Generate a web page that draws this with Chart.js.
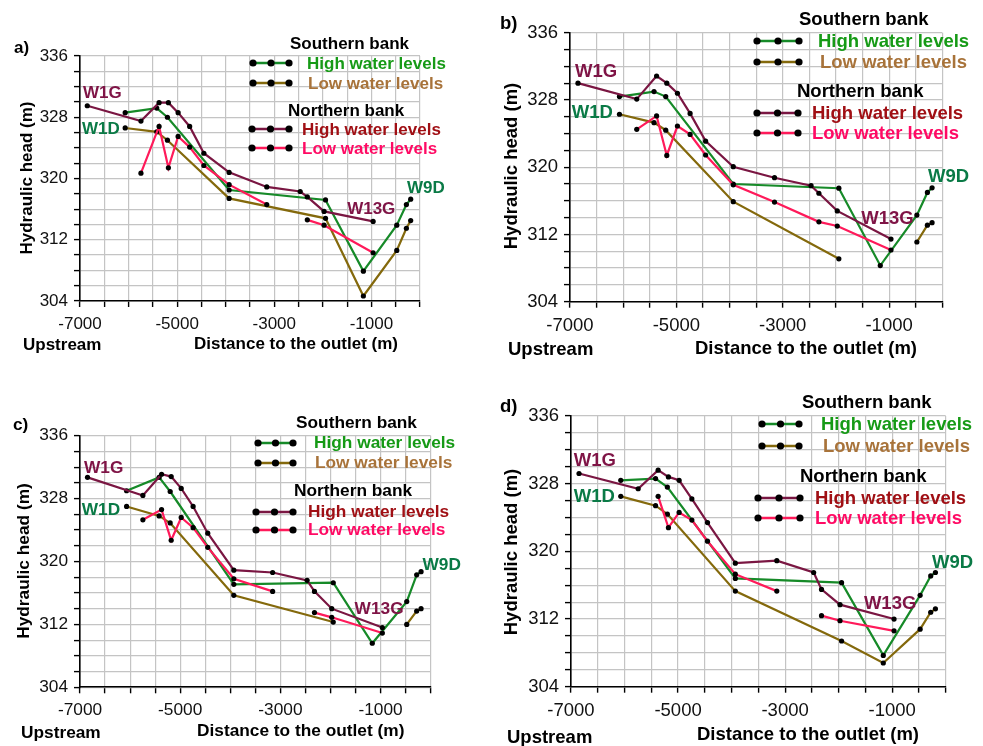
<!DOCTYPE html>
<html><head><meta charset="utf-8">
<script src="https://cdn.jsdelivr.net/npm/chart.js@4.4.1/dist/chart.umd.min.js"></script>
<style>
html,body{margin:0;padding:0;background:#fff;}
body{width:983px;height:746px;position:relative;overflow:hidden;font-family:"Liberation Sans",Arial,Helvetica,sans-serif;}
canvas{position:absolute;}
.t{position:absolute;white-space:nowrap;font-weight:bold;line-height:1;transform:translateY(-50%);}
.rot{position:absolute;white-space:nowrap;font-weight:bold;line-height:1;transform:translate(-50%,-50%) rotate(-90deg);}
svg{position:absolute;}
</style></head><body>
<script>
// ---------------- data ----------------
// well positions (distance to the outlet, m)
const southX     = [-6070, -5420, -5200, -3930, -1945, -1166, -478, -280, -192];
const northHighX = [-6850, -5745, -5372, -5180, -4980, -4742, -4450, -3930, -3155, -2467, -2320, -1975, -965];
const northLowX  = [-5745, -5372, -5180, -4980, -4742, -4450, -3930, -3155, -2740, -2320, -1975, -965];

// panel a
const aSouthHigh = [328.6, 329.2, 328.0, 318.5, 317.2, 307.9, 313.9, 316.6, 317.3];
const aSouthLow  = [326.6, 326.1, 325.0, 317.4, 314.8, 304.65, 310.6, 313.5, 314.5];
const aNorthHigh = [329.5, 327.5, 329.9, 329.9, 328.6, 326.8, 323.3, 320.8, 318.9, 318.3, 317.6, 315.7, 314.4];
const aNorthLow  = [320.7, 326.8, 321.4, 325.5, 324.1, 321.7, 319.2, 316.6, null, 314.6, 313.9, 310.3];
// panel b
const bSouthHigh = [328.4, 329.0, 328.4, 318.0, 317.5, 308.3, 314.3, 317.0, 317.55];
const bSouthLow  = [326.3, 325.3, 324.4, 315.9, 309.1, null, 311.1, 313.1, 313.4];
const bNorthHigh = [330.0, 328.1, 330.85, 330.0, 328.8, 326.4, 323.1, 320.06, 318.75, 317.8, 316.9, 314.8, 311.45];
const bNorthLow  = [324.5, 326.1, 321.4, 324.9, 323.9, 321.45, 317.9, 315.85, null, 313.5, 313.0, 310.15];
// panel c
const cSouthHigh = [329.0, 330.7, 328.9, 317.1, 317.3, 309.6, 314.9, 318.3, 318.7];
const cSouthLow  = [327.0, 325.8, 324.9, 315.7, 312.3, null, 312.0, 313.7, 314.0];
const cNorthHigh = [330.7, 328.4, 331.1, 330.8, 329.3, 327.0, 323.6, 318.9, 318.6, 317.6, 316.2, 314.0, 311.6];
const cNorthLow  = [325.3, 326.6, 322.7, 325.6, 324.3, 321.8, 317.8, 316.2, null, 313.5, 312.9, 310.9];
// panel d
const dSouthHigh = [328.4, 328.6, 327.6, 316.8, 316.3, 307.7, 314.8, 317.1, 317.5];
const dSouthLow  = [326.5, 325.4, 324.4, 315.3, 309.4, 306.8, 310.8, 312.8, 313.2];
const dNorthHigh = [329.2, 327.4, 329.6, 328.8, 328.4, 326.2, 323.4, 318.6, 318.9, 317.5, 315.5, 313.7, 312.0];
const dNorthLow  = [null, 326.5, 322.8, 324.6, 323.7, 321.2, 317.3, 315.3, null, 312.4, 311.8, 310.6];

// axes
const xMin = -7000, xMax = 0, xStep = 500;
const xTickLabels = [-7000, -5000, -3000, -1000];
const yMin = 304, yMax = 336, yStep = 2;
const yTickLabels = [304, 312, 320, 328, 336];

const wellNames = ['W1G', 'W1D', 'W13G', 'W9D'];
const legendHeaders = ['Southern bank', 'Northern bank'];
const legendItems = ['High water levels', 'Low water levels', 'High water levels', 'Low water levels'];

// ---------------- styles / layout ----------------
const F = '"Liberation Sans", Arial, Helvetica, sans-serif';
const C = {green:'#168a28', olive:'#84690c', maroon:'#7a1642', red:'#ff1a5a'};
const legendTextColors = ['#169a16', '#a8733a', '#a00f14', '#ff0a64'];
const legendLineColors = [C.green, C.olive, C.maroon, C.red];
const wellColors = ['#7f1446', '#0a7a46', '#7f1446', '#0a7a46'];

const panels = [
  {letter:'a)', left:0, top:0, w:490, h:373, L:80, R:420, T:56, B:301, fs:17,
   data:[aSouthHigh, aSouthLow, aNorthHigh, aNorthLow], nlSpan:false,
   letterPos:[14,47], yt:[26,178], up:[23,344], xt:[194,343],
   wells:[[-6940,331.3],[-6960,326.6],[-1500,316.2],[-269,318.9]],
   lg:{h:[[290,43],[288,110]], rows:[[253,289,63,307],[253,289,82.7,308],[252,289,129.3,302],[252,289,147.7,302]]}},
  {letter:'b)', left:490, top:0, w:493, h:373, L:570, R:942.3, T:32.7, B:301.7, fs:18.5,
   data:[bSouthHigh, bSouthLow, bNorthHigh, bNorthLow], nlSpan:true,
   letterPos:[500,23], yt:[510.5,166], up:[508,349], xt:[695,348],
   wells:[[-6906,331.4],[-6968,326.6],[-1525,313.9],[-269,318.9]],
   lg:{h:[[799,19],[797,91]], rows:[[757,799,40.7,818],[757,799,62.3,820],[757,798,113.3,812],[757,798,133.3,812]]}},
  {letter:'c)', left:0, top:373, w:490, h:373, L:80, R:430.7, T:435.7, B:687.3, fs:17.3,
   data:[cSouthHigh, cSouthLow, cNorthHigh, cNorthLow], nlSpan:false,
   letterPos:[13,425], yt:[24,561], up:[21,733], xt:[197,731],
   wells:[[-6920,331.85],[-6966,326.6],[-1519,313.9],[-163,319.55]],
   lg:{h:[[296,422.7],[294,490.7]], rows:[[258,293,443.3,314],[258,293,463.3,315],[256,293,511.7,308],[256,293,530,308]]}},
  {letter:'d)', left:490, top:373, w:493, h:373, L:571, R:945.7, T:416, B:686.7, fs:18.5,
   data:[dSouthHigh, dSouthLow, dNorthHigh, dNorthLow], nlSpan:false,
   letterPos:[500,406], yt:[510.5,552], up:[507,737], xt:[697,734],
   wells:[[-6950,330.8],[-6950,326.6],[-1528,313.9],[-257,318.8]],
   lg:{h:[[802,402.3],[800,476]], rows:[[762,799,424,821],[762,799,445.7,823],[758,800,497.7,815],[758,800,517.7,815]]}}
];

function addText(txt, x, y, size, color, cls){
  const d = document.createElement('div');
  d.className = cls || 't';
  d.textContent = txt;
  d.style.left = x + 'px'; d.style.top = y + 'px';
  d.style.fontSize = size + 'px'; d.style.color = color || '#000';
  document.body.appendChild(d);
  return d;
}
function addSwatch(x1, x2, y, color){
  const ns = 'http://www.w3.org/2000/svg';
  const s = document.createElementNS(ns, 'svg');
  const w = x2 - x1 + 10;
  s.setAttribute('width', w); s.setAttribute('height', 10);
  s.style.left = (x1 - 5) + 'px'; s.style.top = (y - 5) + 'px';
  const l = document.createElementNS(ns, 'line');
  l.setAttribute('x1', 5); l.setAttribute('x2', w - 5); l.setAttribute('y1', 5); l.setAttribute('y2', 5);
  l.setAttribute('stroke', color); l.setAttribute('stroke-width', 2.6);
  s.appendChild(l);
  [5, w / 2, w - 5].forEach(cx => {
    const c = document.createElementNS(ns, 'circle');
    c.setAttribute('cx', cx); c.setAttribute('cy', 5); c.setAttribute('r', 3.6); c.setAttribute('fill', '#000');
    s.appendChild(c);
  });
  document.body.appendChild(s);
}
function toPoints(xs, ys){ return xs.map((x, i) => ({x: x, y: ys[i]})); }
function ds(xs, ys, color, span){
  return {data: toPoints(xs, ys), borderColor: color, backgroundColor: color, borderWidth: 2.2,
    pointRadius: 2.6, pointBackgroundColor: '#000', pointBorderWidth: 0, pointHoverRadius: 2.6,
    tension: 0, spanGaps: span, fill: false};
}

panels.forEach(p => {
  const cv = document.createElement('canvas');
  cv.width = p.w; cv.height = p.h;
  cv.style.left = p.left + 'px'; cv.style.top = p.top + 'px';
  cv.style.width = p.w + 'px'; cv.style.height = p.h + 'px';
  document.body.appendChild(cv);
  const [sh, sl, nh, nl] = p.data;
  const chart = new Chart(cv, {
    type: 'line',
    data: {datasets: [
      ds(northLowX, nl, C.red, p.nlSpan),
      ds(northHighX, nh, C.maroon, false),
      ds(southX, sh, C.green, false),
      ds(southX, sl, C.olive, false)
    ]},
    options: {
      responsive: false, animation: false, events: [], devicePixelRatio: 1,
      layout: {padding: {left: 0, top: p.T - p.top, right: p.left + p.w - p.R, bottom: 0}},
      plugins: {legend: {display: false}, tooltip: {enabled: false}},
      scales: {
        x: {type: 'linear', min: xMin, max: xMax,
          afterFit(s){ s.height = p.top + p.h - p.B; },
          ticks: {stepSize: xStep, autoSkip: false, maxRotation: 0, padding: 7, color: '#111',
            font: {size: p.fs, family: F},
            callback: v => xTickLabels.includes(v) ? String(v) : ''},
          grid: {color: '#c4c4c4', lineWidth: 1.2, tickLength: 6, tickColor: '#000', tickWidth: 1.4},
          border: {color: '#000', width: 1.6}
        },
        y: {type: 'linear', min: yMin, max: yMax,
          afterFit(s){ s.width = p.L - p.left; },
          ticks: {stepSize: yStep, autoSkip: false, padding: 6, color: '#111',
            font: {size: p.fs, family: F},
            callback: v => yTickLabels.includes(v) ? String(v) : ''},
          grid: {color: '#c4c4c4', lineWidth: 1.2, tickLength: 6, tickColor: '#000', tickWidth: 1.4},
          border: {color: '#000', width: 1.6}
        }
      }
    }
  });

  // titles
  addText(p.letter, p.letterPos[0], p.letterPos[1], p.fs, '#000');
  addText('Hydraulic head (m)', p.yt[0], p.yt[1], p.fs, '#000', 'rot');
  addText('Upstream', p.up[0], p.up[1], p.fs, '#000');
  addText('Distance to the outlet (m)', p.xt[0], p.xt[1], p.fs, '#000');

  // well labels, placed through the chart scales
  const xs = chart.scales.x, ys = chart.scales.y;
  p.wells.forEach((w, i) => {
    addText(wellNames[i], p.left + xs.getPixelForValue(w[0]), p.top + ys.getPixelForValue(w[1]), p.fs, wellColors[i]);
  });

  // legend
  addText(legendHeaders[0], p.lg.h[0][0], p.lg.h[0][1], p.fs, '#000');
  addText(legendHeaders[1], p.lg.h[1][0], p.lg.h[1][1], p.fs, '#000');
  p.lg.rows.forEach((r, i) => {
    addSwatch(r[0], r[1], r[2], legendLineColors[i]);
    addText(legendItems[i], r[3], r[2], p.fs, legendTextColors[i]);
  });
});
</script></body></html>
